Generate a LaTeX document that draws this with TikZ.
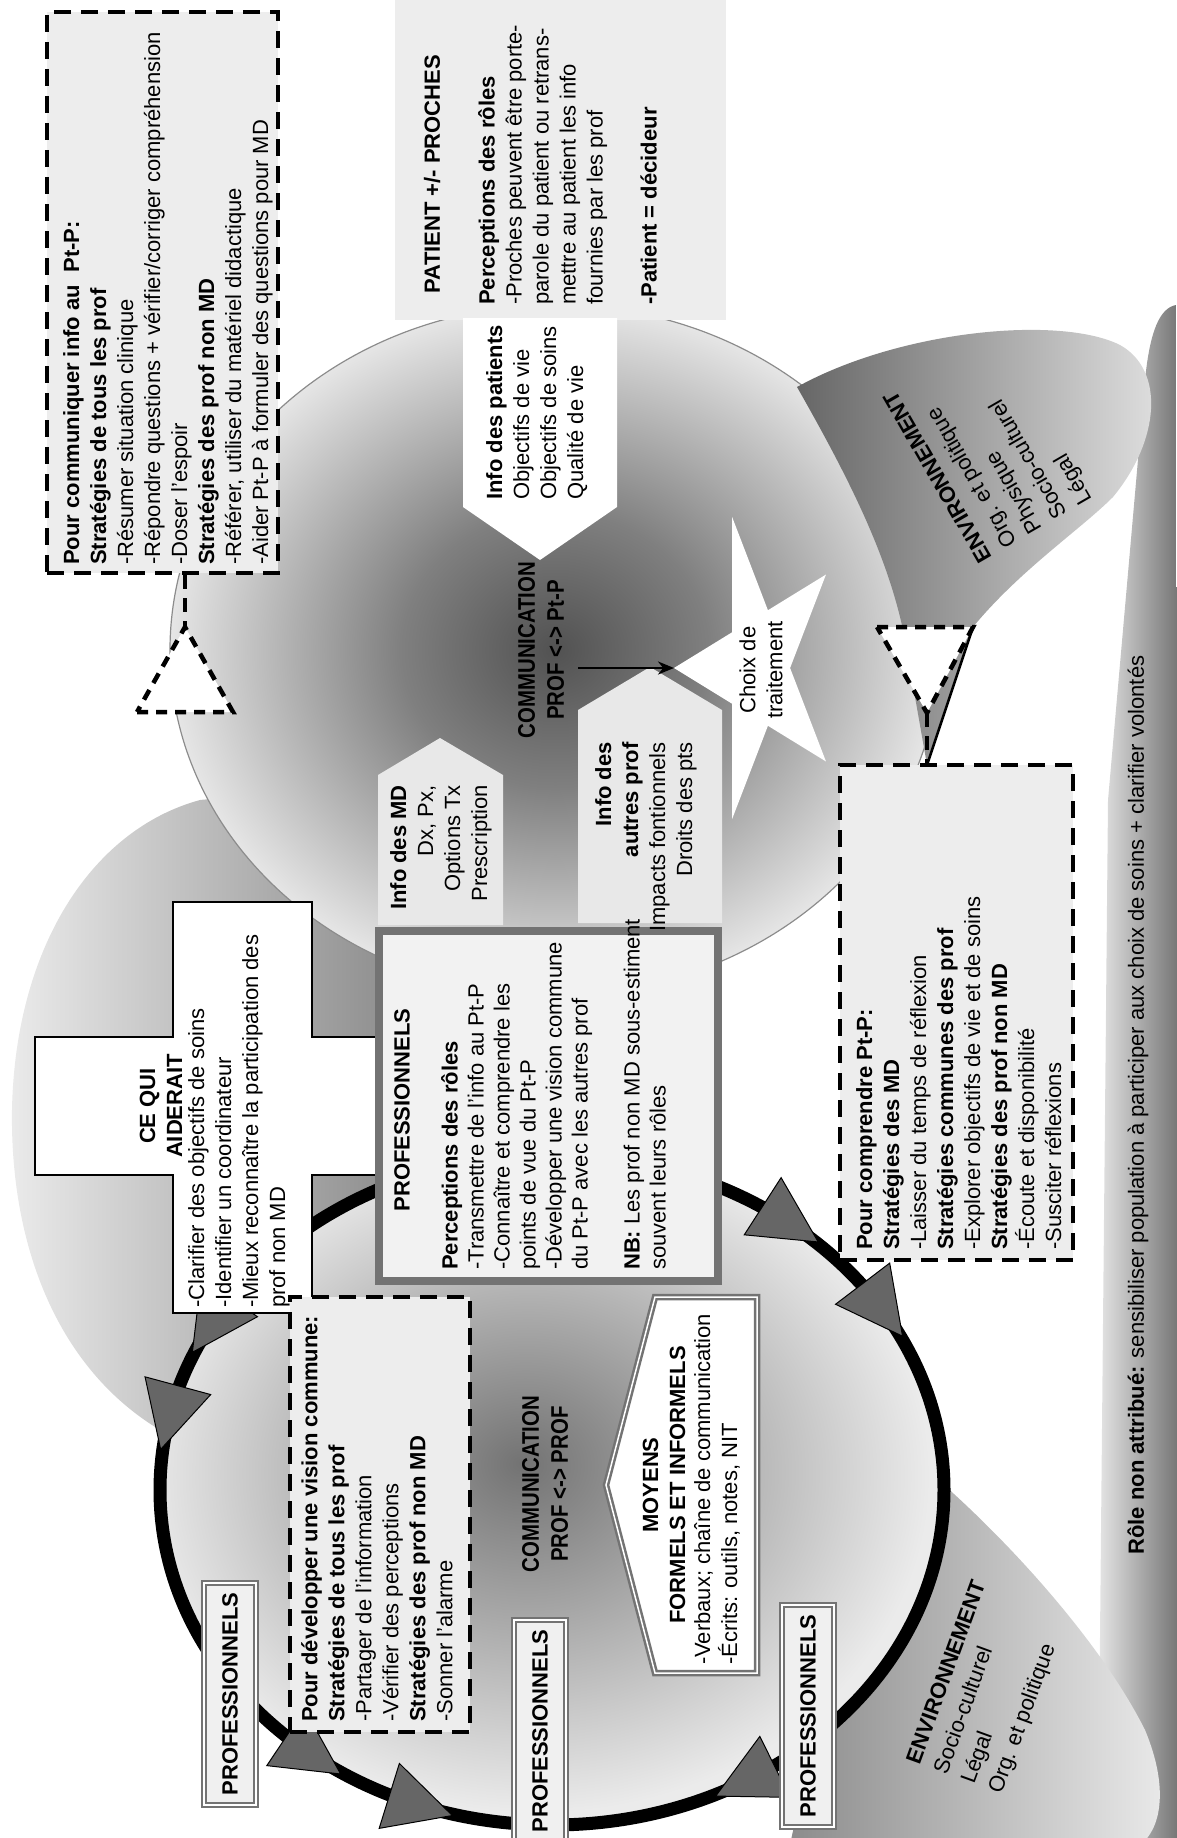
\documentclass[tikz,border=0pt]{standalone}
\usepackage{fontspec}
\setmainfont{Liberation Sans}
\newfontfamily\headfont[FakeStretch=0.85]{Liberation Sans}
\usetikzlibrary{arrows.meta}

\pgfdeclareradialshading{spheresh}{\pgfpoint{0bp}{0bp}}{%
  color(0bp)=(black!68); color(10bp)=(black!50); color(25bp)=(black!10); color(50bp)=(black!10)}
\pgfdeclareradialshading{ringsh}{\pgfpoint{-2bp}{2bp}}{%
  color(0bp)=(black!55); color(25bp)=(black!8); color(50bp)=(black!8)}

\tikzset{
  vtext/.style={font=\fontsize{22}{27}\selectfont, inner sep=0pt, align=left, rotate=90},
  vtitle/.style={vtext, align=center, font=\fontsize{22}{27}\selectfont\bfseries},
  ptext/.style={font=\fontsize{22}{29}\selectfont, inner sep=0pt, align=left},
  dashbox/.style={draw, line width=4pt, dash pattern=on 17pt off 10pt, fill=black!7, inner sep=0pt},
  dashtri/.style={draw, line width=4.5pt, dash pattern=on 11pt off 8pt, fill=white},
  dashlink/.style={line width=4pt, dash pattern=on 14pt off 9pt},
  profbox/.style={draw=black!55, line width=2.5pt, double=white, double distance=1.5pt,
    fill=black!6, rotate=90, minimum width=222pt, minimum height=52pt, inner sep=0pt,
    font=\fontsize{22}{27}\selectfont\bfseries},
  infopent/.style={fill=black!9},
  ringhead/.style={fill=black!60, draw=black, line width=1pt},
  commlabel/.style={rotate=90, align=center, inner sep=0pt,
    font=\fontsize{24}{29}\selectfont\headfont\bfseries},
}

\begin{document}
\begin{tikzpicture}[x=1pt, y=-1pt]
\useasboundingbox (0,0) rectangle (1176,1838);

% background shapes
\shade[left color=black!10, right color=black!55]
  (1176,305) .. controls (1160,308) and (1150,330) .. (1145,380)
  -- (1108,800) -- (1098,1845) -- (1180,1845) -- cycle;
\shade[left color=black!45, right color=black!8]
  (915,1460) .. controls (1000,1530) and (1100,1640) .. (1145,1730)
  .. controls (1170,1790) and (1160,1830) .. (1140,1845) -- (790,1845)
  .. controls (820,1700) and (870,1550) .. (915,1460) -- cycle;
\shade[left color=black!8, right color=black!45]
  (160,1430) .. controls (60,1370) and (10,1250) .. (12,1110)
  .. controls (15,950) and (90,830) .. (200,800)
  .. controls (280,790) and (350,880) .. (400,960) -- (400,1200) -- cycle;

% ring prof <-> prof
\shade[shading=ringsh] (552,1490) ellipse [x radius=392, y radius=335];
\draw[line width=13pt] (552,1490) ellipse [x radius=392, y radius=335];
\foreach \angpos/\sense in {210/-1,193/-1,128/-1,110/-1,60/1,307/1,327/1} {
  \pgfmathsetmacro{\ang}{atan2(-335*cos(\angpos),-392*sin(\angpos))+ifthenelse(\sense<0,180,0)}
  \begin{scope}[shift={({552+392*cos(\angpos)},{1490+335*sin(\angpos)})}, rotate=\ang]
    \filldraw[ringhead] (36,0) -- (-30,34) -- (-30,-34) -- cycle;
  \end{scope}
}

% sphere prof <-> Pt-P
\shade[shading=spheresh] (555,650) ellipse [x radius=385, y radius=345];
\draw[black!45, line width=1.2pt] (555,650) ellipse [x radius=385, y radius=345];

% environment petal
\shade[left color=black!60, right color=black!12]
  (927,765) -- (973,627) .. controls (1020,570) and (1080,530) .. (1113,497)
  .. controls (1160,440) and (1165,370) .. (1120,345)
  .. controls (1060,315) and (900,330) .. (797,387)
  .. controls (850,480) and (890,560) .. (905,640) -- cycle;

% patient and info shapes
\fill[black!7] (395,0) rectangle (726,320);
\fill[white] (463,318) -- (617,318) -- (617,507) -- (540,560) -- (463,507) -- cycle;
\fill[infopent] (378,925) -- (378,775) -- (440,738) -- (503,775) -- (503,925) -- cycle;
\fill[infopent] (578,923) -- (578,710) -- (650,667) -- (722,710) -- (722,923) -- cycle;

% star
\fill[white] (674,668)
  \foreach[evaluate={\sr=ifthenelse(mod(\i,2)==0,1,0.382);\sa=180+36*\i}] \i in {1,...,9}
  { -- ({758+84*\sr*cos(\sa)},{668-159*\sr*sin(\sa)}) } -- cycle;
\coordinate (arrowstart) at (578,668);
\coordinate (starleft) at (674,668);
\draw[-{Stealth[length=16pt,width=13pt]}, line width=2.5pt] (arrowstart) -- (starleft);

% ce qui aiderait
\filldraw[fill=white, line width=2pt] (173,902) -- (312,902) -- (312,1037) -- (450,1037)
  -- (450,1175) -- (312,1175) -- (312,1313) -- (173,1313) -- (173,1175) -- (35,1175)
  -- (35,1037) -- (173,1037) -- cycle;

% professionnels
\filldraw[fill=black!5, draw=black!55, line width=8pt] (379,931) rectangle (718,1281);

% dashed boxes
\node[dashbox, minimum width=231pt, minimum height=561pt] (commbox) at (162.5,292.5) {};
\node[dashbox, minimum width=233pt, minimum height=495pt] (comprbox) at (956.5,1012.5) {};
\node[dashbox, minimum width=180pt, minimum height=435pt] (visionbox) at (380,1514.5) {};
\coordinate (tri1top) at (185,627);
\coordinate (tri2tip) at (927,713);
\draw[dashlink] (commbox.south -| tri1top) -- (tri1top);
\draw[dashlink] (tri2tip) -- (tri2tip |- comprbox.north);
\filldraw[dashtri] (137,712) -- (233,712) -- (tri1top) -- cycle;
\filldraw[dashtri] (877,627) -- (973,627) -- (tri2tip) -- cycle;
\draw[line width=2.5pt] (927,765) -- (973,627);

% moyens
\filldraw[fill=white, draw=black!55, line width=2.5pt, double=white, double distance=1.5pt]
  (606,1485) -- (655,1297) -- (757,1297) -- (757,1673) -- (655,1673) -- cycle;

\node[profbox] (prof1) at (230,1694) {PROFESSIONNELS};
\node[profbox] (prof2) at (540,1731) {PROFESSIONNELS};
\node[profbox] (prof3) at (808,1716) {PROFESSIONNELS};

% texts
\node[vtext, anchor=north west] at (63,565) {\textbf{Pour communiquer info au\ \ Pt-P:}\\
  \textbf{Stratégies de tous les prof}\\ -Résumer situation clinique\\
  -Répondre questions + vérifier/corriger compréhension\\ -Doser l'espoir\\
  \textbf{Stratégies des prof non MD}\\ -Référer, utiliser du matériel didactique\\
  -Aider Pt-P à formuler des questions pour MD};
\node[vtitle] at (432,174) {PATIENT +/- PROCHES};
\node[vtext, anchor=north west] at (478,305) {\textbf{Perceptions des rôles}\\
  -Proches peuvent être porte-\\ parole du patient ou retrans-\\
  mettre au patient les info\\ fournies par les prof\\[27pt] \textbf{-Patient = décideur}};
\node[vtext, anchor=north west] at (486,500) {\textbf{Info des patients}\\
  Objectifs de vie\\ Objectifs de soins\\ Qualité de vie};
\node[vtext, align=right, anchor=north east] at (390,785) {\textbf{Info des MD}\\
  Dx, Px,\\ Options Tx\\ Prescription};
\node[vtext, align=right, anchor=north east] at (595,742) {\textbf{Info des}\\
  \textbf{autres prof}\\ Impacts fontionnels\\ Droits des pts};
\node[commlabel] (commpt) at (541,650) {COMMUNICATION\\PROF <-> Pt-P};
\node[vtext, align=center] (choix) at (761,670) {Choix de\\traitement};
\node[vtitle] at (161,1106) {CE QUI\\AIDERAIT};
\node[vtext, anchor=north west] at (188,1308) {-Clarifier des objectifs de soins\\
  -Identifier un coordinateur\\ -Mieux reconnaître la participation des\\ prof non MD};
\node[vtitle] at (402,1110) {PROFESSIONNELS};
\node[vtext, anchor=north west, font=\fontsize{22}{26}\selectfont] at (441,1270)
  {\textbf{Perceptions des rôles}\\ -Transmettre de l'info au Pt-P\\
  -Connaître et comprendre les\\ points de vue du Pt-P\\ -Développer une vision commune\\
  du Pt-P avec les autres prof\\[26pt] \textbf{NB:} Les prof non MD sous-estiment\\
  souvent leurs rôles};
\node[vtext, anchor=north west] at (301,1722) {\textbf{Pour développer une vision commune:}\\
  \textbf{Stratégies de tous les prof}\\ -Partager de l'information\\
  -Vérifier des perceptions\\ \textbf{Stratégies des prof non MD}\\ -Sonner l'alarme};
\node[vtext, anchor=north west] at (856,1250) {\textbf{Pour comprendre Pt-P:}\\
  \textbf{Stratégies des MD}\\ -Laisser du temps de réflexion\\
  \textbf{Stratégies communes des prof}\\ -Explorer objectifs de vie et de soins\\
  \textbf{Stratégies des prof non MD}\\ -Écoute et disponibilité\\ -Susciter réflexions};
\node[vtitle] at (664,1485) {MOYENS\\FORMELS ET INFORMELS};
\node[vtext, anchor=north west] at (694,1665) {-Verbaux; chaîne de communication\\
  -Écrits: outils, notes, NIT};
\node[commlabel] (commprof) at (545,1484) {COMMUNICATION\\PROF <-> PROF};
\node[ptext, rotate=120, anchor=north west] at (979,565) {\textbf{ENVIRONNEMENT}\\
  Org. et politique\\ Physique\\ Socio-culturel\\ Légal};
\node[ptext, rotate=70, anchor=north west] at (905,1760) {\textbf{ENVIRONNEMENT}\\
  Socio-culturel\\ Légal\\ Org. et politique};
\node[vtext] at (1138,1105) {\textbf{Rôle non attribué:} sensibiliser population à
  participer aux choix de soins + clarifier volontés};
\end{tikzpicture}
\end{document}
